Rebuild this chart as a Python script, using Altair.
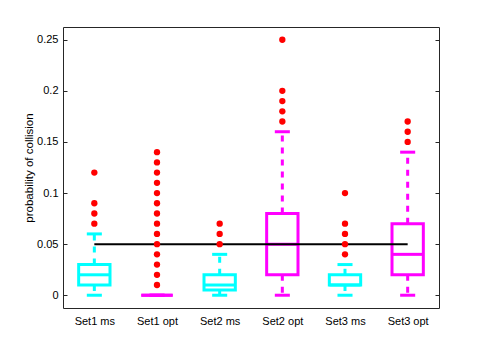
import json
import altair as alt
import pandas as pd

# ---- data ----
categories = ["Set1 ms", "Set1 opt", "Set2 ms", "Set2 opt", "Set3 ms", "Set3 opt"]
kinds = ["ms", "opt", "ms", "opt", "ms", "opt"]
positions = [1, 2, 3, 4, 5, 6]
lower_whisker = [0.0, 0.0, 0.0, 0.0, 0.0, 0.0]
q1 = [0.01, 0.0, 0.005, 0.02, 0.01, 0.02]
median = [0.02, 0.0, 0.01, 0.05, 0.01, 0.04]
q3 = [0.03, 0.0, 0.02, 0.08, 0.02, 0.07]
upper_whisker = [0.06, 0.0, 0.04, 0.16, 0.03, 0.14]

outliers_set1_ms = [0.07, 0.08, 0.09, 0.12]
outliers_set1_opt = [0.01, 0.02, 0.03, 0.04, 0.05, 0.06, 0.07, 0.08, 0.09, 0.10, 0.11, 0.12, 0.13, 0.14]
outliers_set2_ms = [0.05, 0.06, 0.07]
outliers_set2_opt = [0.17, 0.18, 0.19, 0.20, 0.25]
outliers_set3_ms = [0.04, 0.05, 0.06, 0.07, 0.10]
outliers_set3_opt = [0.15, 0.16, 0.17]

ref_value = 0.05
y_ticks = [0, 0.05, 0.1, 0.15, 0.2, 0.25]
y_domain = [-0.0125, 0.2625]

# ---- styles ----
CYAN = "#00FFFF"
MAGENTA = "#FF00FF"
RED = "#FF0000"
FONT = "Liberation Sans"
AXC = "#262626"

box_df = pd.DataFrame({
    "pos": positions, "cat": categories, "kind": kinds,
    "lower": lower_whisker, "q1": q1, "median": median, "q3": q3, "upper": upper_whisker,
})

out_lists = [outliers_set1_ms, outliers_set1_opt, outliers_set2_ms,
             outliers_set2_opt, outliers_set3_ms, outliers_set3_opt]
out_rows = []
for p, vals in zip(positions, out_lists):
    for v in vals:
        out_rows.append({"pos": p, "value": v})
out_df = pd.DataFrame(out_rows)

ref_df = pd.DataFrame({"x1": [positions[0]], "x2": [positions[-1]], "y": [ref_value]})

xscale = alt.Scale(domain=[0.5, 6.5], nice=False, zero=False)
def yscale():
    return alt.Scale(domain=y_domain, nice=False, zero=False)

xaxis = alt.Axis(values=positions, labelExpr=f"{json.dumps(categories)}[datum.value - 1]",
                 tickSize=0, domain=False, grid=False, labelPadding=7, title=None,
                 labelFontSize=11, labelFont=FONT, labelColor="black")

yaxis_labels = alt.Axis(orient="left", values=y_ticks, format="~g", tickSize=0, domain=False, grid=False,
                        labelPadding=5, labelFontSize=11, labelFont=FONT, labelColor="black",
                        title="probability of collision", titleFontSize=11.5, titleFont=FONT,
                        titleFontWeight="normal", titleColor="black", titlePadding=2)
yaxis_left_ticks = alt.Axis(orient="left", values=y_ticks, offset=-4, tickSize=4, tickColor=AXC,
                            labels=False, domain=False, grid=False, title=None)
yaxis_right_ticks = alt.Axis(orient="right", values=y_ticks, offset=-4, tickSize=4, tickColor=AXC,
                             labels=False, domain=False, grid=False, title=None)

color = alt.Color("kind:N", scale=alt.Scale(domain=["ms", "opt"], range=[CYAN, MAGENTA]), legend=None)

base = alt.Chart(box_df).transform_calculate(
    xl="datum.pos - 0.25", xr="datum.pos + 0.25",
    cl="datum.pos - 0.12", cr="datum.pos + 0.12")

boxes = base.mark_rect(fillOpacity=0, strokeWidth=3).encode(
    x=alt.X("xl:Q", scale=xscale, axis=xaxis), x2="xr:Q",
    y=alt.Y("q1:Q", scale=yscale(), axis=yaxis_labels), y2="q3:Q",
    stroke=color)

medians = base.mark_rule(strokeWidth=3).encode(
    x=alt.X("xl:Q", scale=xscale, axis=xaxis), x2="xr:Q",
    y=alt.Y("median:Q", scale=yscale(), axis=None), color=color)

whisk_up = base.mark_rule(strokeWidth=3, strokeDash=[6, 6]).encode(
    x=alt.X("pos:Q", scale=xscale, axis=xaxis),
    y=alt.Y("q3:Q", scale=yscale(), axis=None), y2="upper:Q", color=color)

whisk_lo = base.mark_rule(strokeWidth=3, strokeDash=[6, 6]).encode(
    x=alt.X("pos:Q", scale=xscale, axis=xaxis),
    y=alt.Y("q1:Q", scale=yscale(), axis=None), y2="lower:Q", color=color)

cap_up = base.mark_rule(strokeWidth=3).encode(
    x=alt.X("cl:Q", scale=xscale, axis=xaxis), x2="cr:Q",
    y=alt.Y("upper:Q", scale=yscale(), axis=None), color=color)

cap_lo = base.mark_rule(strokeWidth=3).encode(
    x=alt.X("cl:Q", scale=xscale, axis=xaxis), x2="cr:Q",
    y=alt.Y("lower:Q", scale=yscale(), axis=None), color=color)

ref = alt.Chart(ref_df).mark_rule(color="black", strokeWidth=2).encode(
    x=alt.X("x1:Q", scale=xscale, axis=xaxis), x2="x2:Q",
    y=alt.Y("y:Q", scale=yscale(), axis=yaxis_left_ticks))

outs = alt.Chart(out_df).mark_circle(color=RED, size=40, opacity=1).encode(
    x=alt.X("pos:Q", scale=xscale, axis=xaxis),
    y=alt.Y("value:Q", scale=yscale(), axis=yaxis_right_ticks))

chart = alt.layer(boxes, whisk_up, whisk_lo, cap_up, cap_lo, medians, ref, outs).resolve_scale(
    y="independent"
).properties(
    width=376, height=281,
    autosize=alt.AutoSizeParams(type="none"),
    padding={"left": 55, "top": 19, "right": 38, "bottom": 48},
).configure_view(stroke=AXC, strokeWidth=1)

chart.save("out.html", embed_options={"renderer": "svg", "actions": False})
